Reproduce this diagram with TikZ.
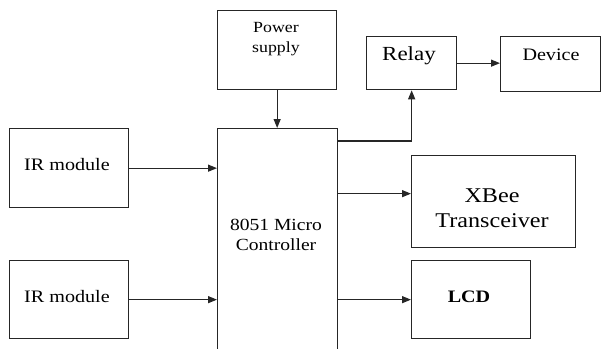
\documentclass[tikz,border=0pt]{standalone}
\usepackage{fontspec}
\setmainfont[FakeStretch=1.15]{Liberation Serif}
\usetikzlibrary{arrows.meta,calc}

\tikzset{
  blk/.style={draw=black!85, line width=1.3pt, inner sep=0pt, anchor=north west},
  lbl/.style={inner sep=0pt, anchor=base, align=center},
  arr/.style={draw=black!85, line width=1.2pt, -{Triangle[length=9pt,width=7pt]}},
  wire/.style={draw=black!85, line width=1.2pt}
}

\begin{document}
\begin{tikzpicture}[x=1pt,y=-1pt]
\useasboundingbox (0,0) rectangle (601,348);
\clip (0,0) rectangle (601,348);

% blocks
\node[blk, minimum width=119pt, minimum height=79pt] (ps) at (217,10) {};
\node[blk, minimum width=90pt, minimum height=53pt] (relay) at (366,36) {};
\node[blk, minimum width=100pt, minimum height=55pt] (dev) at (500,36) {};
\node[blk, minimum width=120pt, minimum height=240pt] (mc) at (217,128) {};
\node[blk, minimum width=119pt, minimum height=79pt] (ir1) at (9,128) {};
\node[blk, minimum width=119pt, minimum height=78pt] (ir2) at (9,260) {};
\node[blk, minimum width=164pt, minimum height=92pt] (xb) at (411,155) {};
\node[blk, minimum width=119pt, minimum height=78pt] (lcd) at (411,260) {};

% texts (base = last line)
\node[lbl, font=\fontsize{15.5}{20}\selectfont] (pstxt) at (276,52.5) {Power\\supply};
\node[lbl, font=\fontsize{20}{24}\selectfont] (relaytxt) at (409,60) {Relay};
\node[lbl, font=\fontsize{17.5}{22}\selectfont] (devtxt) at (551,60) {Device};
\node[lbl, font=\fontsize{17}{20}\selectfont] (mctxt) at (276,250) {8051 Micro\\Controller};
\node[lbl, font=\fontsize{17.5}{22}\selectfont] (ir1txt) at (67,170) {IR module};
\node[lbl, font=\fontsize{17.5}{22}\selectfont] (ir2txt) at (67,302) {IR module};
\node[lbl, font=\fontsize{21}{25}\selectfont] (xbtxt) at (492,227) {XBee\\Transceiver};
\node[lbl, font=\fontsize{17.5}{22}\selectfont\bfseries] (lcdtxt) at (469,302) {LCD};

% connectors
\coordinate (rtap) at ($(mc.north east)+(0,13)$);
\coordinate (xbin) at ($(xb.west)+(0,-8)$);
\draw[arr] (ps.south) -- (ps.south |- mc.north);
\draw[arr] (ir1.east) -- (ir1.east -| mc.west);
\draw[arr] (ir2.east) -- (ir2.east -| mc.west);
\draw[arr] (rtap) -| (relay.south);
\draw[arr] (relay.east) -- (relay.east -| dev.west);
\draw[arr] (xbin -| mc.east) -- (xbin);
\draw[arr] (lcd.west -| mc.east) -- (lcd.west);
\end{tikzpicture}
\end{document}
